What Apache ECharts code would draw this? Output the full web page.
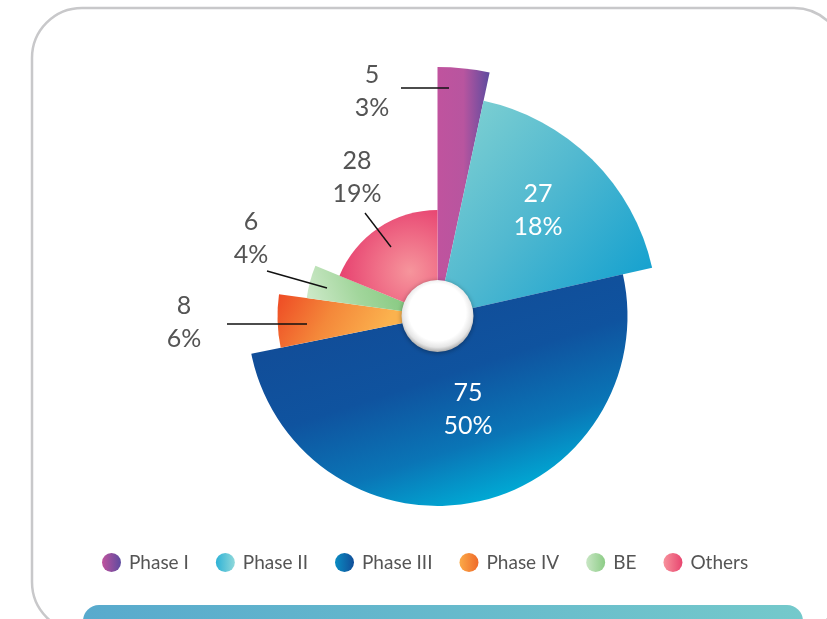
<!DOCTYPE html>
<html><head><meta charset="utf-8">
<script src="https://cdn.jsdelivr.net/npm/echarts@6/dist/echarts.min.js"></script>
<style>html,body{margin:0;padding:0;background:#fff}#c{width:827px;height:619px}</style>
</head><body><div id="c"></div>
<script>
// ---- data ----
const categories = ['Phase I', 'Phase II', 'Phase III', 'Phase IV', 'BE', 'Others'];
const values = [5, 27, 75, 8, 6, 28];
const percentLabels = ['3%', '18%', '50%', '6%', '4%', '19%'];

// ---- layout / style ----
const CX = 437.5, CY = 316;
const outerRadius = [249, 220, 190, 160, 132, 106];
const labelInside = [false, true, true, false, false, false];
const labelPos = [[372, 91], [538, 210], [468, 409], [184, 322], [251, 238], [357, 177]];
const leaderLines = [
  [[401, 88], [425, 88], [449, 88]],
  null, null,
  [[227, 324], [267, 324], [307, 324]],
  [[267, 271], [297, 279.5], [327, 288]],
  [[365, 213], [378, 230], [391, 247]]
];
function lin(x, y, x2, y2, stops) {
  return { type: 'linear', x: x, y: y, x2: x2, y2: y2, colorStops: stops.map(s => ({ offset: s[0], color: s[1] })) };
}
function rad(x, y, r, stops) {
  return { type: 'radial', x: x, y: y, r: r, colorStops: stops.map(s => ({ offset: s[0], color: s[1] })) };
}
const sliceColors = [
  lin(0, 0, 1, 0, [[0, '#c0539e'], [0.5, '#b8559f'], [1, '#5d4b9f']]),
  lin(0, 0, 1, 0.85, [[0, '#86d4d2'], [0.5, '#52b9d0'], [1, '#12a0cf']]),
  lin(0.4, 0, 0.6, 1, [[0, '#124b96'], [0.45, '#0f539f'], [0.75, '#0a75b6'], [1, '#00abd5']]),
  lin(0, 0, 0.6, 1, [[0, '#ee4a24'], [0.5, '#f4883a'], [1, '#fbb24e']]),
  lin(0, 1, 0.8, 0.2, [[0, '#d4ecd0'], [0.5, '#a2d69c'], [1, '#7ec578']]),
  rad(0.72, 0.58, 0.75, [[0, '#f6959c'], [0.5, '#ef6a85'], [1, '#e63e6e']])
];
const legendColors = [
  lin(0, 0, 1, 0, [[0, '#c0539e'], [1, '#5d4b9f']]),
  lin(0, 0, 1, 0, [[0, '#2eb2d6'], [1, '#8fd8da']]),
  lin(0, 0, 1, 0, [[0, '#0a8cc2'], [1, '#114e99']]),
  lin(0, 0, 1, 0, [[0, '#fbaa48'], [1, '#ef6a2a']]),
  lin(0, 0, 1, 0, [[0, '#c8e6c4'], [1, '#8ccc86']]),
  lin(0, 0, 1, 0, [[0, '#f7929c'], [1, '#e8456f']])
];
const FONT = 'Lato';
const transparent = 'rgba(0,0,0,0)';

// one pie per slice: same angles, own outer radius
const series = categories.map((cat, i) => ({
  type: 'pie',
  name: cat,
  center: [CX, CY],
  radius: [0, outerRadius[i]],
  startAngle: 90,
  clockwise: true,
  silent: true,
  z: 2 + i * 0.01,
  emphasis: { disabled: true },
  itemStyle: { borderWidth: 0 },
  label: { show: false },
  labelLine: { show: false },
  data: categories.map((name, j) => ({
    name: name,
    value: values[j],
    itemStyle: { color: j === i ? sliceColors[i] : transparent }
  }))
}));

// transparent label layer on top of slices
series.push({
  type: 'pie',
  name: 'labels',
  center: [CX, CY],
  radius: [0, outerRadius[0]],
  startAngle: 90,
  clockwise: true,
  silent: true,
  avoidLabelOverlap: false,
  z: 4,
  emphasis: { disabled: true },
  itemStyle: { color: transparent, borderWidth: 0 },
  label: {
    position: 'outside',
    formatter: p => p.value + '\n' + percentLabels[p.dataIndex],
    fontSize: 25, lineHeight: 33, fontFamily: FONT, align: 'center'
  },
  labelLine: { length: 10, length2: 10, lineStyle: { color: '#111', width: 1.4 } },
  labelLayout: p => {
    const i = p.dataIndex;
    const o = { x: labelPos[i][0], y: labelPos[i][1], align: 'center', verticalAlign: 'middle' };
    if (leaderLines[i]) o.labelLinePoints = leaderLines[i];
    return o;
  },
  data: categories.map((name, j) => ({
    name: name,
    value: values[j],
    label: { color: labelInside[j] ? '#ffffff' : '#545454' },
    labelLine: { show: !labelInside[j] }
  }))
});

// central hub
series.push({
  type: 'pie',
  name: 'hub',
  center: [CX, CY],
  radius: [0, 36],
  silent: true,
  z: 5,
  label: { show: false },
  labelLine: { show: false },
  emphasis: { disabled: true },
  data: [{
    value: 1, name: '',
    itemStyle: {
      color: rad(0.5, 0.45, 0.55, [[0, '#ffffff'], [0.72, '#ffffff'], [0.88, '#e6e6e6'], [1, '#a9a9a9']]),
      shadowBlur: 5, shadowColor: 'rgba(0,0,0,0.35)', shadowOffsetY: 1
    }
  }]
});

const chart = echarts.init(document.getElementById('c'), null, { renderer: 'canvas' });
chart.setOption({
  backgroundColor: '#ffffff',
  animation: false,
  graphic: [
    {
      type: 'rect', z: -10, silent: true,
      shape: { x: 32, y: 8, width: 812, height: 624, r: 50 },
      style: { fill: '#ffffff', stroke: '#c8c8ca', lineWidth: 2.5 }
    },
    {
      type: 'rect', z: -9, silent: true,
      shape: { x: 83, y: 605, width: 720, height: 40, r: 16 },
      style: { fill: lin(0, 0, 1, 0, [[0, '#58aacd'], [1, '#74c9cb']]) }
    }
  ],
  legend: {
    top: 548, left: 97,
    icon: 'circle', itemWidth: 19, itemHeight: 19, itemGap: 27,
    selectedMode: false,
    textStyle: { fontSize: 19, color: '#555555', fontFamily: FONT, padding: [0, 0, 0, 3] },
    data: categories.map((n, i) => ({ name: n, itemStyle: { color: legendColors[i] } }))
  },
  series: series
});
</script>
</body></html>
